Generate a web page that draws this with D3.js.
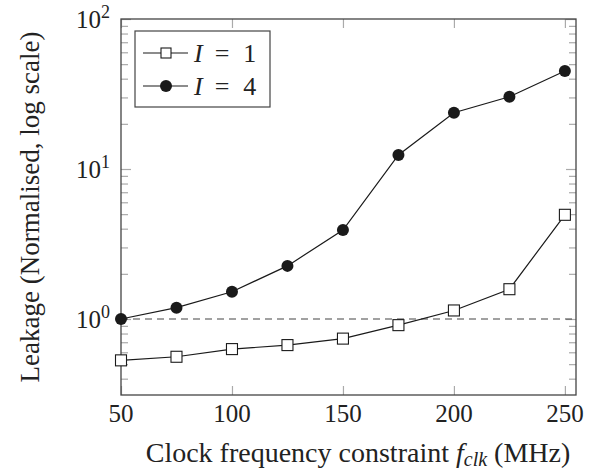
<!DOCTYPE html>
<html>
  <head>
    <meta charset="utf-8">
    <style>
      html, body { margin: 0; padding: 0; background: #fff; }
      text { font-family: "Liberation Serif", "DejaVu Serif", serif; }
    </style>
  </head>
  <body>
    <script src="https://cdn.jsdelivr.net/npm/d3@7"></script>
    <div id="chart"></div>
    <script>

      // Data
      var freqs = [50, 75, 100, 125, 150, 175, 200, 225, 250]
      var leakI1 = [0.53, 0.56, 0.63, 0.67, 0.74, 0.91, 1.14, 1.58, 4.95]
      var leakI4 = [1.0, 1.19, 1.52, 2.26, 3.92, 12.4, 23.7, 30.3, 45]
      var xTicks = [50, 100, 150, 200, 250]
      var yTicks = [1, 10, 100]
      var yExps = ['0', '1', '2']
      var seriesNames = ['1', '4']

      var W = 596, H = 470
      var pLeft = 121, pRight = 576, pTop = 19, pBottom = 395

      var svg = d3.select('#chart').append('svg')
        .attr('width', W)
        .attr('height', H)

      var x = d3.scaleLinear().domain([50, 255]).range([pLeft, pRight])
      var y = d3.scaleLog().domain([0.3114, 100]).range([pBottom, pTop])

      // minor ticks for log axis
      var minor = []
      ;[0.1, 1, 10].forEach(function(d) {
        for (var k = 2; k <= 9; k++) {
          var v = d * k
          if (v >= y.domain()[0] && v <= 100) minor.push(v)
        }
      })

      var tickColor = '#aaa'

      // ticks on all four sides (inside)
      function tickLines(g) {
        g.select('.domain').remove()
        g.selectAll('.tick line').attr('stroke', tickColor).attr('stroke-width', 1.2)
        g.selectAll('.tick text').remove()
      }

      svg.append('g').attr('transform', 'translate(0,' + pBottom + ')')
        .call(d3.axisTop(x).tickValues(xTicks).tickSize(9).tickFormat('')).call(tickLines)
      svg.append('g').attr('transform', 'translate(0,' + pTop + ')')
        .call(d3.axisBottom(x).tickValues(xTicks).tickSize(9).tickFormat('')).call(tickLines)
      svg.append('g').attr('transform', 'translate(' + pLeft + ',0)')
        .call(d3.axisRight(y).tickValues(yTicks).tickSize(10).tickFormat('')).call(tickLines)
      svg.append('g').attr('transform', 'translate(' + pLeft + ',0)')
        .call(d3.axisRight(y).tickValues(minor).tickSize(7).tickFormat('')).call(tickLines)
      svg.append('g').attr('transform', 'translate(' + pRight + ',0)')
        .call(d3.axisLeft(y).tickValues(yTicks).tickSize(10).tickFormat('')).call(tickLines)
      svg.append('g').attr('transform', 'translate(' + pRight + ',0)')
        .call(d3.axisLeft(y).tickValues(minor).tickSize(7).tickFormat('')).call(tickLines)

      // frame
      svg.append('rect')
        .attr('x', pLeft).attr('y', pTop)
        .attr('width', pRight - pLeft).attr('height', pBottom - pTop)
        .attr('fill', 'none')
        .attr('stroke', '#444')
        .attr('stroke-width', 1.3)

      // x tick labels
      svg.selectAll('.xlab')
        .data(xTicks)
        .enter()
        .append('text')
        .attr('x', function(d) { return x(d) })
        .attr('y', 422)
        .attr('text-anchor', 'middle')
        .style('font-size', '25px')
        .style('fill', '#222')
        .text(function(d) { return d })

      // y tick labels with superscripts
      var ylab = svg.selectAll('.ylab')
        .data(yTicks)
        .enter()
        .append('text')
        .attr('x', 110)
        .attr('y', function(d) { return y(d) + 9 })
        .attr('text-anchor', 'end')
        .style('font-size', '25px')
        .style('fill', '#222')
      ylab.append('tspan').text('10')
      ylab.append('tspan')
        .attr('dy', -10)
        .style('font-size', '18px')
        .text(function(d, i) { return yExps[i] })

      // dashed reference line at 1
      svg.append('line')
        .attr('x1', pLeft).attr('x2', pRight)
        .attr('y1', y(1)).attr('y2', y(1))
        .attr('stroke', '#444')
        .attr('stroke-width', 1.2)
        .attr('stroke-dasharray', '7,5')

      var line = d3.line()
        .x(function(d, i) { return x(freqs[i]) })
        .y(function(d) { return y(d) })

      // I = 1
      svg.append('path')
        .datum(leakI1)
        .attr('d', line)
        .attr('fill', 'none')
        .attr('stroke', '#1a1a1a')
        .attr('stroke-width', 1.2)

      svg.selectAll('.sq')
        .data(leakI1)
        .enter()
        .append('rect')
        .attr('x', function(d, i) { return x(freqs[i]) - 5.5 })
        .attr('y', function(d) { return y(d) - 5.5 })
        .attr('width', 11).attr('height', 11)
        .attr('fill', '#fff')
        .attr('stroke', '#1a1a1a')
        .attr('stroke-width', 1.1)

      // I = 4
      svg.append('path')
        .datum(leakI4)
        .attr('d', line)
        .attr('fill', 'none')
        .attr('stroke', '#1a1a1a')
        .attr('stroke-width', 1.2)

      svg.selectAll('.dot')
        .data(leakI4)
        .enter()
        .append('circle')
        .attr('cx', function(d, i) { return x(freqs[i]) })
        .attr('cy', function(d) { return y(d) })
        .attr('r', 6)
        .attr('fill', '#1a1a1a')

      // Legend
      var legend = svg.append('g')
      legend.append('rect')
        .attr('x', 135).attr('y', 31)
        .attr('width', 135).attr('height', 76)
        .attr('fill', '#fff')
        .attr('stroke', '#444')
        .attr('stroke-width', 1.2)

      var rows = [53, 86]
      rows.forEach(function(ry, i) {
        legend.append('line')
          .attr('x1', 143).attr('x2', 188)
          .attr('y1', ry).attr('y2', ry)
          .attr('stroke', '#1a1a1a')
          .attr('stroke-width', 1.2)
        if (i == 0) {
          legend.append('rect')
            .attr('x', 161).attr('y', ry - 5)
            .attr('width', 10).attr('height', 10)
            .attr('fill', '#fff')
            .attr('stroke', '#1a1a1a')
            .attr('stroke-width', 1.1)
        } else {
          legend.append('circle')
            .attr('cx', 166).attr('cy', ry)
            .attr('r', 6)
            .attr('fill', '#1a1a1a')
        }
        var t = legend.append('text')
          .attr('x', 194).attr('y', ry + 9)
          .style('font-size', '26px')
          .style('fill', '#222')
        t.append('tspan').style('font-style', 'italic').text('I')
        t.append('tspan').attr('dx', 12).text('=')
        t.append('tspan').attr('dx', 14).text(seriesNames[i])
      })

      // axis labels
      var xl = svg.append('text')
        .attr('x', 358)
        .attr('y', 462)
        .attr('text-anchor', 'middle')
        .style('font-size', '28px')
        .style('fill', '#222')
      xl.append('tspan').text('Clock frequency constraint ')
      xl.append('tspan').style('font-style', 'italic').text('f')
      xl.append('tspan').style('font-style', 'italic').style('font-size', '20px').attr('dy', 4).text('clk')
      xl.append('tspan').attr('dy', -4).text(' (MHz)')

      svg.append('text')
        .attr('transform', 'translate(39,' + ((pTop + pBottom) / 2) + ') rotate(-90)')
        .attr('text-anchor', 'middle')
        .style('font-size', '27px')
        .style('fill', '#222')
        .text('Leakage (Normalised, log scale)')

    </script>
  </body>
</html>
